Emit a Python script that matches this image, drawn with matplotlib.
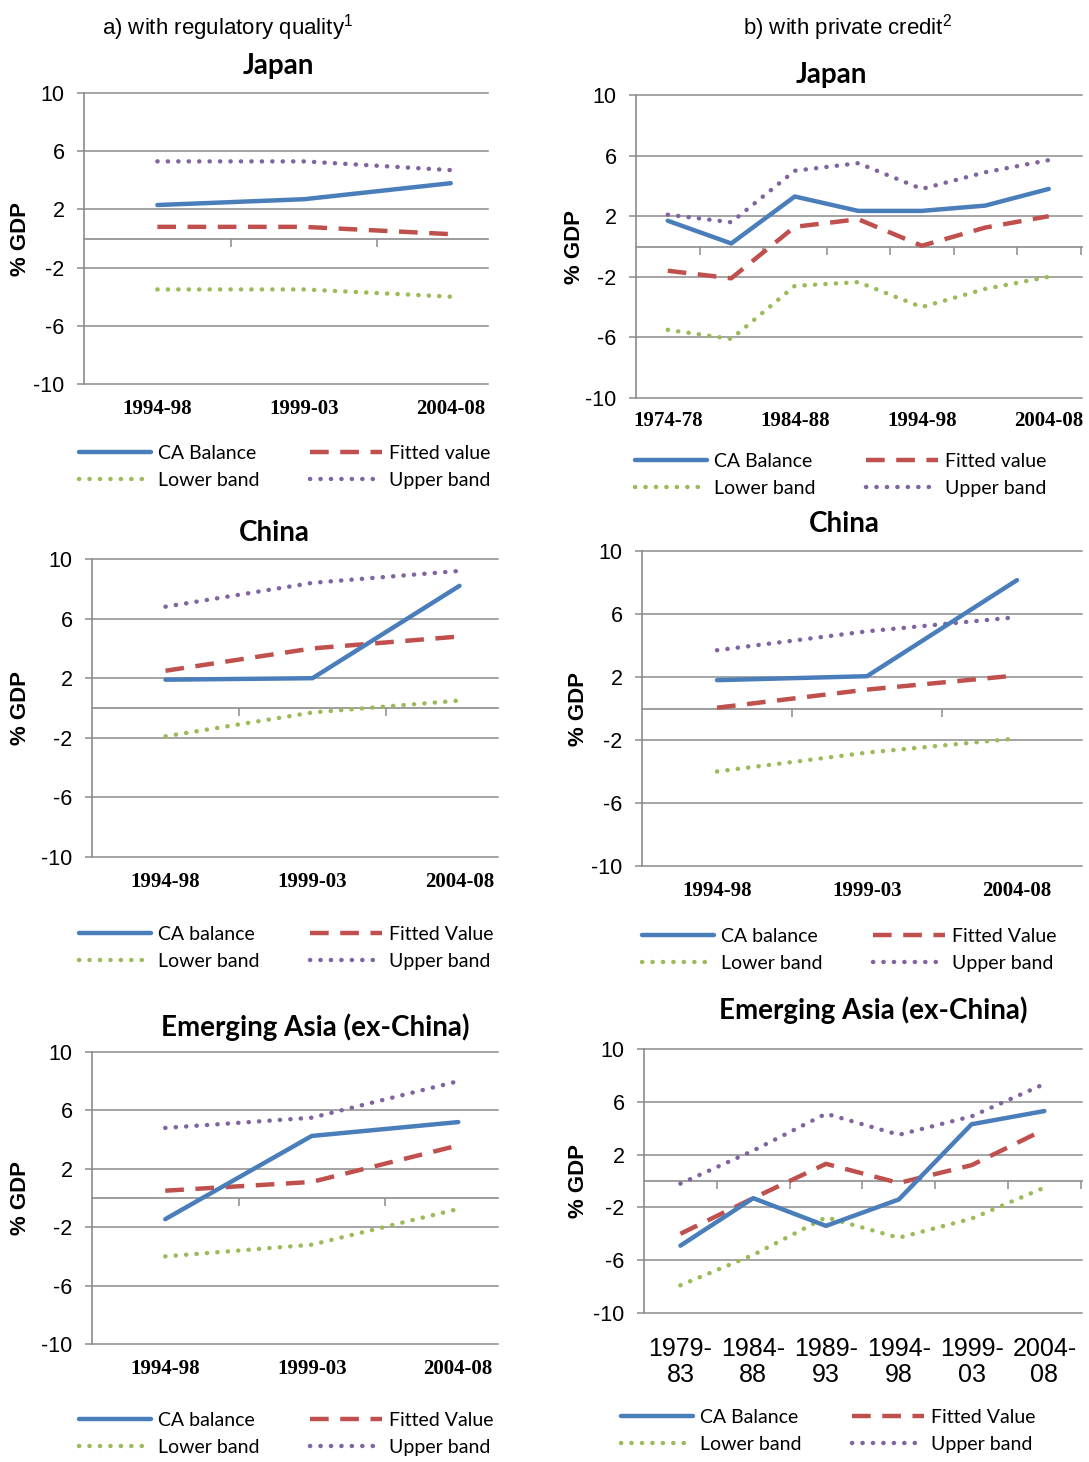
import matplotlib
matplotlib.use("Agg")
import numpy as np
import matplotlib.pyplot as plt
import matplotlib.transforms as mtrans

plt.rcParams['mathtext.default'] = 'regular'

W, H = 1089, 1462

BLUE = '#4a7ebb'
RED = '#c0504d'
GREEN = '#9bbb59'
PURPLE = '#8064a2'
GRID = '#8c8c8c'

# Periods on the x axis
periods_short = ['1994-98', '1999-03', '2004-08']
periods_japan = ['1974-78', '1979-83', '1984-88', '1989-93', '1994-98', '1999-03', '2004-08']
periods_asia = ['1979-\n83', '1984-\n88', '1989-\n93', '1994-\n98', '1999-\n03', '2004-\n08']

# a) with regulatory quality
jp_a_ca = [2.3, 2.7, 3.8]
jp_a_fit = [0.8, 0.8, 0.3]
jp_a_low = [-3.5, -3.5, -4.0]
jp_a_up = [5.3, 5.3, 4.7]

cn_a_ca = [1.9, 2.0, 8.2]
cn_a_fit = [2.5, 4.0, 4.8]
cn_a_low = [-1.9, -0.3, 0.5]
cn_a_up = [6.8, 8.4, 9.2]

ea_a_ca = [-1.45, 4.25, 5.2]
ea_a_fit = [0.5, 1.1, 3.6]
ea_a_low = [-4.0, -3.2, -0.75]
ea_a_up = [4.8, 5.5, 8.0]

# b) with private credit
jp_b_ca = [1.7, 0.2, 3.3, 2.35, 2.35, 2.7, 3.8]
jp_b_fit = [-1.6, -2.1, 1.3, 1.8, 0.05, 1.25, 2.0]
jp_b_low = [-5.5, -6.1, -2.6, -2.35, -4.0, -2.8, -2.0]
jp_b_up = [2.1, 1.6, 5.0, 5.5, 3.8, 4.9, 5.7]

cn_b_ca = [1.8, 2.05, 8.15]
cn_b_fit = [0.05, 1.2, 2.1]
cn_b_low = [-4.0, -2.8, -1.9]
cn_b_up = [3.7, 4.9, 5.8]

ea_b_ca = [-4.9, -1.3, -3.4, -1.4, 4.3, 5.3]
ea_b_fit = [-4.0, -1.3, 1.3, -0.15, 1.2, 3.9]
ea_b_low = [-7.9, -5.6, -2.75, -4.3, -2.85, -0.5]
ea_b_up = [-0.2, 2.3, 5.1, 3.5, 4.9, 7.35]

fig = plt.figure(figsize=(W / 100, H / 100), dpi=100)


def fx(x):
    return x / W


def fy(y):
    return 1 - y / H


def panel(box, width, labels, series, legend_names, title, title_xy,
          legend_xy, label_y, ylabel_x, label_step=1, label_style=None):
    left, top, right, bottom = box
    ax = fig.add_axes([fx(left), fy(bottom), (right - left) / W, (bottom - top) / H])
    n = len(labels)
    ax.patch.set_visible(False)

    for s in ['top', 'right']:
        ax.spines[s].set_visible(False)
    ax.spines['left'].set_color(GRID)
    ax.spines['left'].set_linewidth(1.2)
    ax.spines['bottom'].set_position(('data', 0))
    ax.spines['bottom'].set_color(GRID)
    ax.spines['bottom'].set_linewidth(1.2)

    yt = [-10, -6, -2, 2, 6, 10]
    for v in yt:
        ax.axhline(v, color=GRID, lw=1.1, clip_on=False, zorder=0)
    ax.set_yticks(yt)
    ax.set_yticklabels([str(v) for v in yt], family='Liberation Sans', fontsize=15.5)
    ax.tick_params(axis='y', direction='out', length=5, color=GRID, width=1.1, pad=9)
    ax.set_xticks(np.arange(0.5, n - 0.4, 1.0))
    ax.set_xticklabels([])
    ax.tick_params(axis='x', direction='out', length=6, color=GRID, width=1.1)

    x = np.arange(n)
    ca, fit, low, up = series
    l_ca, = ax.plot(x, ca, color=BLUE, lw=3.2, solid_capstyle='round', zorder=5)
    l_fit, = ax.plot(x, fit, color=RED, lw=3.2, linestyle=(0, (4.2, 2.6)), zorder=4)
    l_low, = ax.plot(x, low, color=GREEN, lw=3.2, linestyle=(0, (0.05, 2.3)),
                     dash_capstyle='round', zorder=3)
    l_up, = ax.plot(x, up, color=PURPLE, lw=3.2, linestyle=(0, (0.05, 2.3)),
                    dash_capstyle='round', zorder=3)

    # category width fixes the view; the right edge cuts the last slot short
    ax.set_xlim(-0.5, (right - left) / width - 0.5)
    ax.set_ylim(-10, 10)

    fig.text(fx(ylabel_x), 0.5 * (fy(top) + fy(bottom)), '% GDP', rotation=90,
             ha='center', va='center', family='Liberation Sans',
             fontweight='bold', fontsize=16)

    style = label_style or dict(family='Liberation Serif', fontweight='bold', fontsize=15)
    tr = mtrans.blended_transform_factory(ax.transData, fig.transFigure)
    for i in range(0, n, label_step):
        ax.text(i, fy(label_y), labels[i], transform=tr, ha='center', va='center',
                linespacing=1.15, **style)

    fig.text(fx(title_xy[0]), fy(title_xy[1]), title, ha='center', va='center',
             family='Lato', fontweight='bold', fontsize=20)

    ax.legend([l_ca, l_low, l_fit, l_up],
              [legend_names[0], 'Lower band', legend_names[1], 'Upper band'],
              ncol=2, loc='upper left', bbox_to_anchor=(fx(legend_xy[0]), fy(legend_xy[1])),
              bbox_transform=fig.transFigure, frameon=False,
              prop=dict(family='Lato', size=14), handlelength=3.7,
              handletextpad=0.35, columnspacing=2.6, labelspacing=0.5,
              borderpad=0, borderaxespad=0)
    return ax


panel((84, 93, 488, 384), 146.7, periods_short,
      (jp_a_ca, jp_a_fit, jp_a_low, jp_a_up), ('CA Balance', 'Fitted value'),
      'Japan', (278, 66), (79, 445), 409, 21)
panel((92, 559, 498, 857), 147.0, periods_short,
      (cn_a_ca, cn_a_fit, cn_a_low, cn_a_up), ('CA balance', 'Fitted Value'),
      'China', (274, 533), (79, 926), 882, 21)
panel((92, 1052, 498, 1344), 146.5, periods_short,
      (ea_a_ca, ea_a_fit, ea_a_low, ea_a_up), ('CA balance', 'Fitted Value'),
      'Emerging Asia (ex-China)', (315, 1027), (79, 1412), 1369, 21)

panel((636, 95, 1082, 398), 63.5, periods_japan,
      (jp_b_ca, jp_b_fit, jp_b_low, jp_b_up), ('CA Balance', 'Fitted value'),
      'Japan', (831, 75), (635, 453), 421, 574, label_step=2)
panel((642, 551, 1082, 866), 150.0, periods_short,
      (cn_b_ca, cn_b_fit, cn_b_low, cn_b_up), ('CA balance', 'Fitted Value'),
      'China', (844, 524), (642, 928), 891, 578)
panel((644, 1049, 1082, 1313), 72.8, periods_asia,
      (ea_b_ca, ea_b_fit, ea_b_low, ea_b_up), ('CA Balance', 'Fitted Value'),
      'Emerging Asia (ex-China)', (873, 1010), (621, 1409), 1362, 578,
      label_style=dict(family='Liberation Sans', fontsize=18))

fig.text(fx(228), fy(28), 'a) with regulatory quality$^{1}$', ha='center', va='center',
         family='Liberation Sans', fontsize=16)
fig.text(fx(848), fy(28), 'b) with private credit$^{2}$', ha='center', va='center',
         family='Liberation Sans', fontsize=16)

fig.savefig('out.png', dpi=100)
